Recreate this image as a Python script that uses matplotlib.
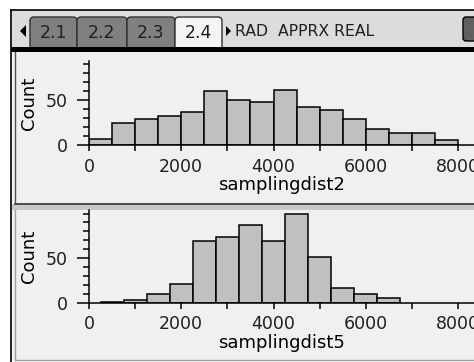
import numpy as np
import matplotlib
matplotlib.use("Agg")
import matplotlib.pyplot as plt
from matplotlib.patches import Rectangle, FancyBboxPatch, Polygon

# histogram data
bin_width = 500
edges2 = np.arange(0, 8001, 500)
counts2 = [7, 24, 29, 32, 37, 60, 50, 48, 61, 42, 39, 29, 18, 13, 13, 5]
edges5 = np.arange(250, 6751, 500)
counts5 = [1, 3, 10, 21, 69, 74, 87, 69, 100, 51, 16, 10, 5]

xlabel2 = "samplingdist2"
xlabel5 = "samplingdist5"
ylabel = "Count"
xticks_major = [0, 2000, 4000, 6000, 8000]
tabs = ["2.1", "2.2", "2.3", "2.4"]
status = "RAD  APPRX REAL"

W, H = 474, 362
plt.rcParams['font.family'] = ['DejaVu Sans']
fig = plt.figure(figsize=(W / 100, H / 100), dpi=100, facecolor="white")

# screen chrome drawn in pixel coordinates
bg = fig.add_axes([0, 0, 1, 1], zorder=0)
bg.set_xlim(0, W)
bg.set_ylim(H, 0)
bg.axis("off")

bg.add_patch(Rectangle((11, 10), W - 11, 37, fc="#dcdcdc", ec="none"))
bg.add_patch(Rectangle((12, 52), W - 12, 151, fc="#f0f0f0", ec="none"))
bg.add_patch(Rectangle((12, 204), W - 12, 6, fc="#c8c8c8", ec="none"))
bg.add_patch(Rectangle((12, 210), W - 12, 150, fc="#f0f0f0", ec="none"))
bg.plot([11, W], [10, 10], color="black", lw=1.2)
bg.plot([11, 11], [10, H], color="black", lw=1.2)
bg.plot([15, 15], [52, 203], color="#505050", lw=1)
bg.plot([15, 15], [210, 360], color="#a0a0a0", lw=1)
bg.plot([15, W], [203.5, 203.5], color="#404040", lw=1.3)
bg.plot([15, W], [360, 360], color="#a0a0a0", lw=1)

tab_x = [30, 77, 127, 175]
tab_w = [47, 50, 48, 47]
for i, (lab, x0, w) in enumerate(zip(tabs, tab_x, tab_w)):
    active = i == len(tabs) - 1
    bg.add_patch(FancyBboxPatch((x0, 17), w, 34,
                                boxstyle="round,pad=0,rounding_size=4",
                                fc="#f4f4f4" if active else "#808080",
                                ec="#303030", lw=1))
    bg.text(x0 + w / 2, 32.5, lab, ha="center", va="center", fontsize=12.5,
            color="#202020")
bg.add_patch(Rectangle((11, 47), W - 11, 5, fc="black", ec="none"))
bg.add_patch(Polygon([[26, 25], [26, 37], [20, 31]], fc="black", ec="none"))
bg.add_patch(Polygon([[226, 26], [226, 36], [231, 31]], fc="black", ec="none"))
bg.text(235, 32, status, ha="left", va="center", fontsize=11.3, color="#202020")
bg.add_patch(FancyBboxPatch((463, 17), 20, 24,
                            boxstyle="round,pad=0,rounding_size=3",
                            fc="#606060", ec="black", lw=1))


def hist_panel(rect_px, edges, counts, ymax, xlab):
    left, top, right, bottom = rect_px
    ax = fig.add_axes([left / W, 1 - bottom / H, (right - left) / W, (bottom - top) / H],
                      zorder=2)
    ax.patch.set_alpha(0)
    ax.bar(edges[:-1], counts, width=bin_width, align="edge",
           color="#c0c0c0", edgecolor="black", linewidth=1.1)
    xmax = 8000 * (right - left) / (458 - 89)
    ax.set_xlim(0, xmax)
    ax.set_ylim(0, ymax)
    for s in ["top", "right"]:
        ax.spines[s].set_visible(False)
    ax.spines["left"].set_linewidth(1.1)
    ax.spines["bottom"].set_linewidth(1.1)
    ax.set_xticks(np.arange(0, 8001, 1000), minor=True)
    ax.set_xticks(xticks_major)
    ax.tick_params(axis="x", which="both", direction="out", length=4, width=1.1,
                   labelsize=12.5, pad=5)
    ax.set_yticks([0, 50])
    ax.set_yticks(np.arange(0, ymax, 10), minor=True)
    ax.tick_params(axis="y", which="major", direction="out", length=9, width=1.1,
                   labelsize=12.5, pad=6)
    ax.tick_params(axis="y", which="minor", direction="out", length=4, width=1.1)
    ax.set_xlabel(xlab, fontsize=13, labelpad=0.5)
    ax.set_ylabel(ylabel, fontsize=13, labelpad=6)
    for lab in ax.get_xticklabels() + ax.get_yticklabels():
        lab.set_color("#202020")
    return ax


hist_panel((89, 61, W, 145), edges2, counts2, 93, xlabel2)
hist_panel((89, 210, W, 302.7), edges5, counts5, 104, xlabel5)

fig.savefig("out.png", dpi=100, facecolor="white")
